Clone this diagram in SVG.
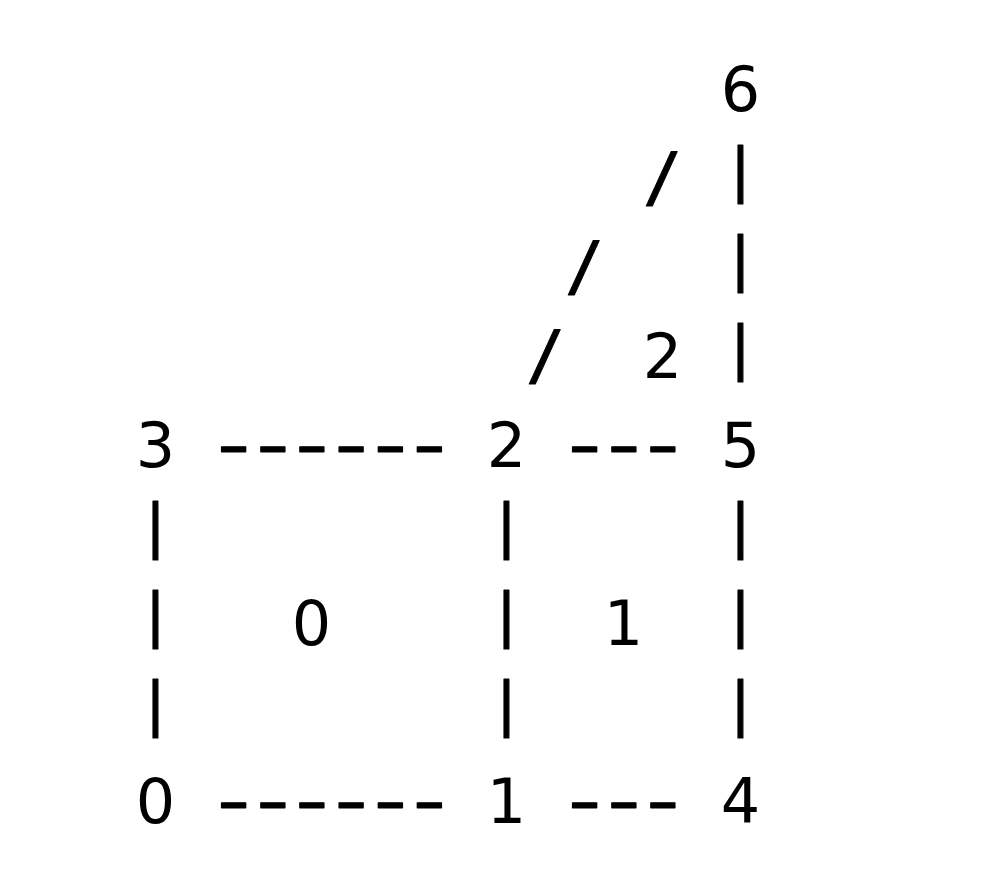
<svg xmlns="http://www.w3.org/2000/svg" width="987" height="878" viewBox="0 0 987 878">
<style>
text{fill:#000;text-anchor:middle}
.k{font-family:"DejaVu Sans Mono","Liberation Mono",monospace;font-size:65px;stroke:#000;stroke-width:1;stroke-linejoin:round}
.d{font-family:"DejaVu Sans Mono","Liberation Mono",monospace;font-size:65px;stroke:#000;stroke-width:1;stroke-linejoin:round;text-anchor:start;letter-spacing:-12.1px}
.p{font-family:"DejaVu Sans Mono","Liberation Mono",monospace;font-size:58px;stroke:#000;stroke-width:1.2;stroke-linejoin:round}
.n{font-family:"DejaVu Sans","Liberation Sans",sans-serif;font-size:62px}
</style>
<rect width="987" height="878" fill="#fff"/>
<g id="connectors">
<g id="edge-3-2"><text class="d" transform="translate(205.2,467) scale(1.45,1)">------</text></g>
<g id="edge-2-5"><text class="d" transform="translate(556.2,467) scale(1.45,1)">---</text></g>
<g id="edge-0-1"><text class="d" transform="translate(205.2,823) scale(1.45,1)">------</text></g>
<g id="edge-1-4"><text class="d" transform="translate(556.2,823) scale(1.45,1)">---</text></g>
<g id="edge-5-6">
<text class="p" x="740.5" y="190">|</text>
<text class="p" x="740.5" y="279">|</text>
<text class="p" x="740.5" y="368">|</text>
</g>
<g id="edge-2-6">
<text class="k" x="662.5" y="200">/</text>
<text class="k" x="584.5" y="289">/</text>
<text class="k" x="545.5" y="378">/</text>
</g>
<g id="edge-3-0">
<text class="p" x="155.5" y="546">|</text>
<text class="p" x="155.5" y="635">|</text>
<text class="p" x="155.5" y="724">|</text>
</g>
<g id="edge-2-1">
<text class="p" x="506.5" y="546">|</text>
<text class="p" x="506.5" y="635">|</text>
<text class="p" x="506.5" y="724">|</text>
</g>
<g id="edge-5-4">
<text class="p" x="740.5" y="546">|</text>
<text class="p" x="740.5" y="635">|</text>
<text class="p" x="740.5" y="724">|</text>
</g>
</g>
<g id="node-6"><text class="n" x="740.5" y="111">6</text></g>
<g id="node-3"><text class="n" x="155.5" y="467">3</text></g>
<g id="node-2"><text class="n" x="506.5" y="467">2</text></g>
<g id="node-5"><text class="n" x="740.5" y="467">5</text></g>
<g id="node-0"><text class="n" x="155.5" y="823">0</text></g>
<g id="node-1"><text class="n" x="506.5" y="823">1</text></g>
<g id="node-4"><text class="n" x="740.5" y="823">4</text></g>
<g id="face-0"><text class="n" x="311.5" y="645">0</text></g>
<g id="face-1"><text class="n" x="623.5" y="645">1</text></g>
<g id="face-2"><text class="n" x="662.5" y="378">2</text></g>
</svg>
